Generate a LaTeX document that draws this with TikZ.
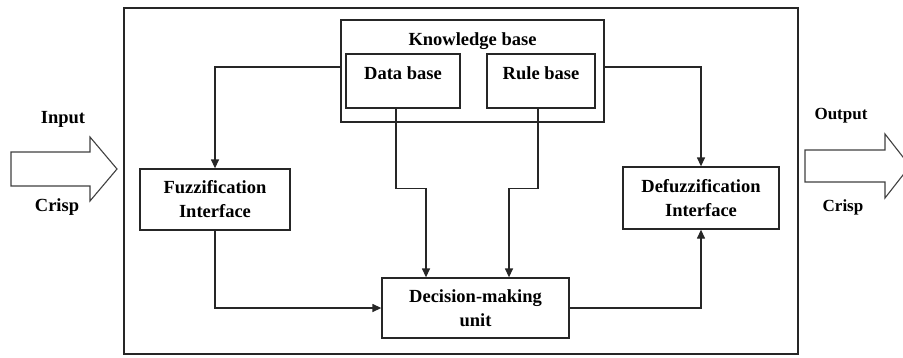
\documentclass[tikz,border=0pt]{standalone}
\usepackage{fontspec}
\setmainfont{Liberation Serif}
\usetikzlibrary{arrows.meta}
\begin{document}
\begin{tikzpicture}[x=1pt,y=-1pt,
  txt/.style={font=\fontsize{18.5}{24}\selectfont\bfseries, inner sep=0pt, align=center},
  box/.style={draw=black!85, line width=1.3pt, inner sep=0pt},
  arr/.style={draw=black!85, line width=1.3pt, -{Triangle[length=9pt,width=8pt]}},
  ln/.style={draw=black!85, line width=1.3pt},
  bigarrow/.style={draw=black!75, line width=1.1pt, fill=white, line join=miter}]
\useasboundingbox (0,0) rectangle (903,357);

% system frame
\node[box, minimum width=674, minimum height=346] (frame) at (461,181) {};

% knowledge base with its two parts
\node[box, minimum width=263, minimum height=102] (kb) at (472.5,71) {};
\node[txt] (kbt) at (472.5,41) {Knowledge base};
\node[box, minimum width=114, minimum height=54] (db) at (403,81) {};
\node[txt] (dbt) at (403,73) {Data base};
\node[box, minimum width=108, minimum height=54] (rb) at (541,81) {};
\node[txt] (rbt) at (541,73) {Rule base};

% processing blocks
\node[box, minimum width=150, minimum height=61, txt] (fuzz) at (215,199.5) {Fuzzification\\Interface};
\node[box, minimum width=156, minimum height=62, txt] (defuzz) at (701,198) {Defuzzification\\Interface};
\node[box, minimum width=187, minimum height=60, txt] (dm) at (475.5,308) {Decision-making\\unit};

% connectors
\draw[arr] ([yshift=4pt]kb.west) -| (fuzz.north);
\draw[arr] ([yshift=4pt]kb.east) -| (defuzz.north);
\draw[arr] ([xshift=-7pt]db.south) -- ++(0,80) -| ([xshift=-49.5pt]dm.north);
\draw[arr] ([xshift=-3pt]rb.south) -- ++(0,80) -| ([xshift=33.5pt]dm.north);
\draw[arr] (fuzz.south) |- (dm.west);
\draw[arr] (dm.east) -| (defuzz.south);

% crisp input and output
\draw[bigarrow] (11,152) -- (90,152) -- (90,137) -- (117,169) -- (90,201) -- (90,186) -- (11,186) -- cycle;
\node[txt] (inl) at (63,119) {Input};
\node[txt] (inc) at (57,207) {Crisp};
\draw[bigarrow] (805,150) -- (885,150) -- (885,134) -- (910,166) -- (885,198) -- (885,182) -- (805,182) -- cycle;
\node[txt, font=\fontsize{17}{20}\selectfont\bfseries] (outl) at (841,116) {Output};
\node[txt, font=\fontsize{17}{20}\selectfont\bfseries] (outc) at (843,207) {Crisp};
\end{tikzpicture}
\end{document}
